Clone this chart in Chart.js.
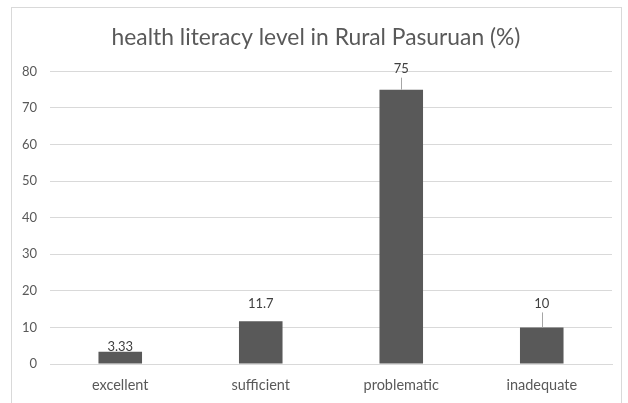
<!DOCTYPE html>
<html lang="en">
<head>
  <meta charset="UTF-8" />
  <title>health literacy level in Rural Pasuruan</title>
  <style>
    html, body { margin: 0; padding: 0; background: #fff; }
    .wrap { position: relative; width: 628px; height: 403px; }
    .frame { position: absolute; left: 11px; top: 7px; width: 611px; height: 400px; border: 1px solid #d9d9d9; box-sizing: border-box; }
    canvas { position: absolute; left: 0; top: 0; }
  </style>
</head>
<body>
  <div class="wrap">
    <div class="frame"></div>
    <canvas id="chart" width="628" height="403"></canvas>
  </div>

  <script src="https://cdn.jsdelivr.net/npm/chart.js"></script>
  <script>
    const categorias = ["excellent", "sufficient", "problematic", "inadequate"];
    const valores = [3.33, 11.7, 75, 10];
    const etiquetas = ["3.33", "11.7", "75", "10"];

    // label placement (distance above bar top) and whether a leader line is drawn
    const labelGap = [5, 17, 21, 24];
    const leader = [false, false, true, true];

    const fuente = "Lato, 'Open Sans', sans-serif";

    const etiquetasPlugin = {
      id: "etiquetas",
      afterDatasetsDraw(chart) {
        const ctx = chart.ctx;
        const meta = chart.getDatasetMeta(0);
        ctx.save();
        ctx.font = "13px " + fuente;
        ctx.fillStyle = "#404040";
        ctx.textAlign = "center";
        ctx.textBaseline = "middle";
        meta.data.forEach((bar, i) => {
          const y = bar.y - labelGap[i];
          ctx.fillText(etiquetas[i], bar.x, y);
          if (leader[i]) {
            ctx.strokeStyle = "#a6a6a6";
            ctx.lineWidth = 1;
            ctx.beginPath();
            ctx.moveTo(Math.round(bar.x) + 0.5, y + 9);
            ctx.lineTo(Math.round(bar.x) + 0.5, bar.y);
            ctx.stroke();
          }
        });
        ctx.restore();
      }
    };

    new Chart(document.getElementById("chart"), {
      type: "bar",
      data: {
        labels: categorias,
        datasets: [{
          data: valores,
          backgroundColor: "#595959",
          barPercentage: 0.31,
          categoryPercentage: 1
        }]
      },
      options: {
        responsive: false,
        animation: false,
        layout: { padding: { left: 20, right: 16, top: 0, bottom: 0 } },
        plugins: {
          legend: { display: false },
          tooltip: { enabled: false },
          title: {
            display: true,
            text: "health literacy level in Rural Pasuruan (%)",
            color: "#595959",
            font: { family: fuente, size: 22.8, weight: "normal" },
            padding: { top: 24, bottom: 20 }
          }
        },
        scales: {
          x: {
            grid: { display: false, drawTicks: false },
            border: { color: "#d9d9d9" },
            ticks: { color: "#595959", font: { family: fuente, size: 14.5 }, padding: 13 },
            afterFit(scale) { scale.height = 39; }
          },
          y: {
            min: 0,
            max: 80,
            ticks: { stepSize: 10, color: "#595959", font: { family: fuente, size: 13 }, padding: 13 },
            grid: { color: "#d9d9d9", drawTicks: false },
            border: { display: false },
            afterFit(scale) { scale.width = 30; }
          }
        }
      },
      plugins: [etiquetasPlugin]
    });
  </script>
</body>
</html>
